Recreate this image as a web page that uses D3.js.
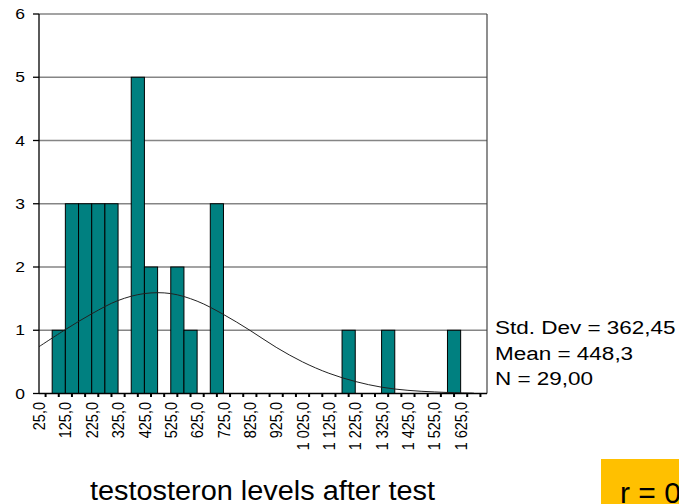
<!DOCTYPE html>
<html>
    <head>
        <meta charset="utf-8">
        <script src="https://d3js.org/d3.v7.min.js"></script>
        <style>
            body { margin: 0; background: white; }
            text { font-family: Arial, "Liberation Sans", sans-serif; fill: black; }
        </style>
    </head>
    <body>
        <script>

            // histogram: one count per bin of width 50, starting at 0
            var binWidth = 50;
            var counts = [0, 1, 3, 3, 3, 3, 0, 5, 2, 0, 2, 1, 0, 3, 0, 0, 0,
                          0, 0, 0, 0, 0, 0, 1, 0, 0, 1, 0, 0, 0, 0, 1, 0, 0];

            // labelled ticks (every second bin midpoint)
            var xTickValues = [25, 125, 225, 325, 425, 525, 625, 725, 825, 925,
                               1025, 1125, 1225, 1325, 1425, 1525, 1625];
            var xTickLabels = ["25,0", "125,0", "225,0", "325,0", "425,0", "525,0", "625,0",
                               "725,0", "825,0", "925,0", "1 025,0", "1 125,0", "1 225,0",
                               "1 325,0", "1 425,0", "1 525,0", "1 625,0"];
            var yTickValues = [0, 1, 2, 3, 4, 5, 6];

            // normal curve
            var curveX = [0, 100, 200, 300, 400, 500, 600, 700, 800, 900,
                          1000, 1100, 1200, 1300, 1400, 1500, 1600, 1650];
            var curveY = [0.74, 1.01, 1.26, 1.47, 1.58, 1.58, 1.46, 1.25, 1.0, 0.73,
                          0.5, 0.32, 0.19, 0.1, 0.05, 0.025, 0.01, 0.006];

            var statLines = ["Std. Dev = 362,45", "Mean = 448,3", "N = 29,00"];
            var title = "testosteron levels after test";
            var corrText = "r = 0,";

            // plot box
            var plotLeft = 39, plotRight = 487, plotTop = 14, plotBottom = 393.5;
            var xMax = binWidth * counts.length;

            var x = d3.scaleLinear().domain([0, xMax]).range([plotLeft, plotRight]);
            var y = d3.scaleLinear().domain([0, 6]).range([plotBottom, plotTop]);

            var bins = counts.map(function(n, i) { return {x0: i * binWidth, n: n}; });

            var svg = d3.select('body').append('svg')
                .attr('width', 679)
                .attr('height', 504);

            svg.append('rect')
                .attr('width', 679).attr('height', 504)
                .attr('fill', 'white');

            // gridlines
            svg.selectAll('.grid')
                .data(yTickValues.filter(function(d) { return d > 0; }))
                .enter().append('line')
                .attr('x1', plotLeft).attr('x2', plotRight)
                .attr('y1', function(d) { return y(d); })
                .attr('y2', function(d) { return y(d); })
                .attr('stroke', '#858585')
                .attr('stroke-width', 1.3);

            // right frame
            svg.append('line')
                .attr('x1', plotRight).attr('x2', plotRight)
                .attr('y1', plotTop).attr('y2', plotBottom)
                .attr('stroke', '#444')
                .attr('stroke-width', 1.2);

            // bars
            svg.selectAll('.bar')
                .data(bins.filter(function(d) { return d.n > 0; }))
                .enter().append('rect')
                .attr('x', function(d) { return x(d.x0); })
                .attr('y', function(d) { return y(d.n); })
                .attr('width', function(d) { return x(d.x0 + binWidth) - x(d.x0); })
                .attr('height', function(d) { return y(0) - y(d.n); })
                .attr('fill', '#008080')
                .attr('stroke', 'black')
                .attr('stroke-width', 1);

            // normal curve
            var line = d3.line()
                .x(function(d, i) { return x(curveX[i]); })
                .y(function(d) { return y(d); })
                .curve(d3.curveCatmullRom);

            svg.append('path')
                .attr('d', line(curveY))
                .attr('fill', 'none')
                .attr('stroke', '#222')
                .attr('stroke-width', 1);

            // y axis
            svg.append('line')
                .attr('x1', plotLeft).attr('x2', plotLeft)
                .attr('y1', plotTop).attr('y2', plotBottom)
                .attr('stroke', 'black').attr('stroke-width', 1.3);

            svg.selectAll('.ytick')
                .data(yTickValues)
                .enter().append('line')
                .attr('x1', plotLeft - 6).attr('x2', plotLeft)
                .attr('y1', function(d) { return y(d); })
                .attr('y2', function(d) { return y(d); })
                .attr('stroke', 'black').attr('stroke-width', 1.3);

            svg.selectAll('.ylabel')
                .data(yTickValues)
                .enter().append('text')
                .attr('transform', function(d) { return 'translate(25,' + y(d) + ') scale(1.25,1)'; })
                .attr('dy', '0.36em')
                .attr('text-anchor', 'end')
                .style('font-size', '14px')
                .text(function(d) { return d; });

            // x axis
            svg.append('line')
                .attr('x1', plotLeft).attr('x2', plotRight)
                .attr('y1', plotBottom).attr('y2', plotBottom)
                .attr('stroke', 'black').attr('stroke-width', 1.3);

            svg.selectAll('.xtick')
                .data(bins)
                .enter().append('line')
                .attr('x1', function(d) { return x(d.x0 + binWidth / 2); })
                .attr('x2', function(d) { return x(d.x0 + binWidth / 2); })
                .attr('y1', plotBottom).attr('y2', plotBottom + 3.5)
                .attr('stroke', 'black').attr('stroke-width', 2);

            // rotated labels, glyphs a bit wider like the stretched original
            svg.selectAll('.xlabel')
                .data(xTickValues)
                .enter().append('text')
                .attr('transform', function(d) { return 'translate(' + (x(d) - 0.5) + ',402) rotate(-90) scale(1,1.2)'; })
                .attr('text-anchor', 'end')
                .style('font-size', '14.5px')
                .text(function(d, i) { return xTickLabels[i]; });

            // statistics
            svg.selectAll('.stat')
                .data(statLines)
                .enter().append('text')
                .attr('transform', function(d, i) { return 'translate(495,' + (334 + i * 25.5) + ') scale(1.25,1)'; })
                .style('font-size', '18px')
                .text(function(d) { return d; });

            // title
            svg.append('text')
                .attr('x', 90).attr('y', 500)
                .attr('textLength', 345)
                .attr('lengthAdjust', 'spacingAndGlyphs')
                .style('font-size', '27px')
                .text(title);

            // correlation box, cut off at the edge
            svg.append('rect')
                .attr('x', 601).attr('y', 459)
                .attr('width', 90).attr('height', 50)
                .attr('fill', '#ffc000');

            svg.append('text')
                .attr('x', 620).attr('y', 503)
                .style('font-size', '30px')
                .text(corrText);

        </script>
    </body>
</html>
